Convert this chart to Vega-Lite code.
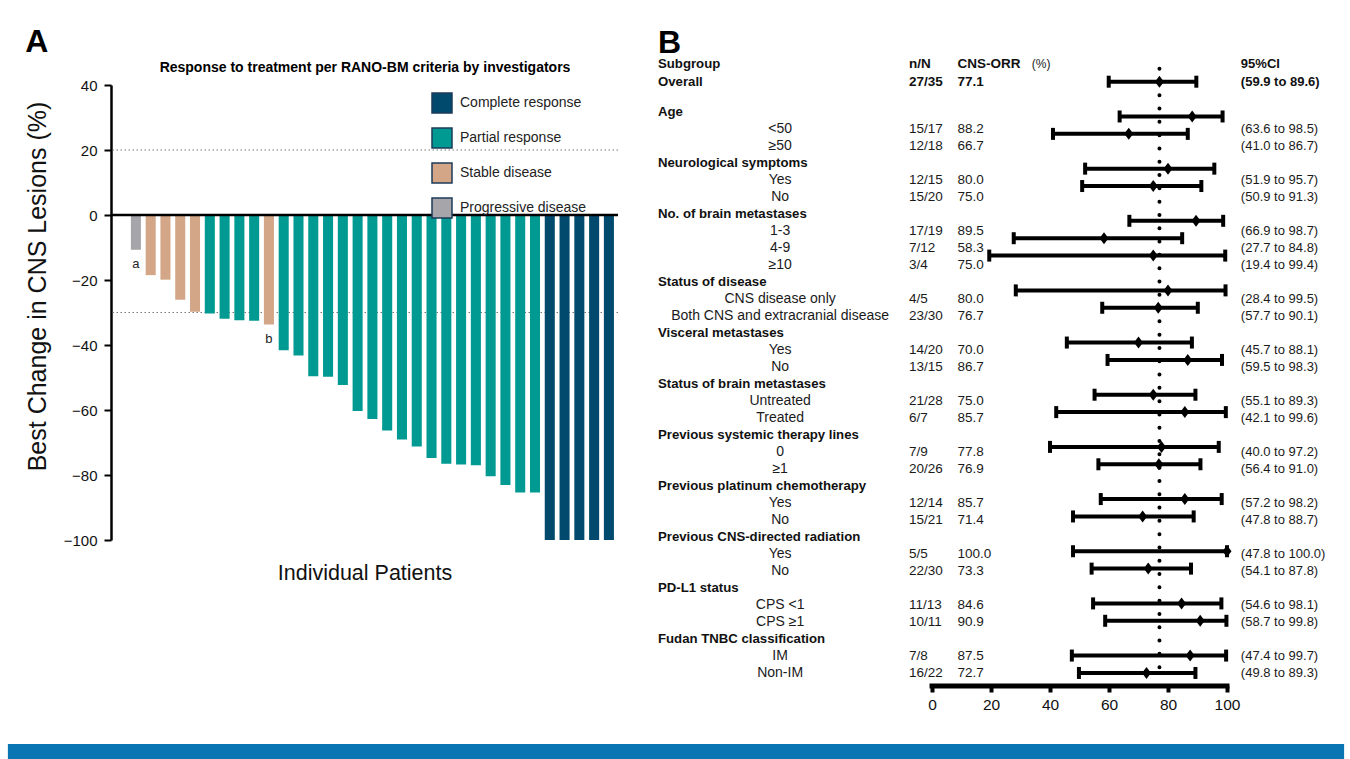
{
  "$schema": "https://vega.github.io/schema/vega-lite/v6.json",
  "padding": {"left": 7, "right": 7, "top": 26, "bottom": 0},
  "background": "white",
  "config": {
    "font": "Liberation Sans",
    "view": {"stroke": null},
    "axis": {"labelColor": "#111", "titleColor": "#111", "domainColor": "#000", "tickColor": "#000"},
    "title": {"fontSize": 32, "fontWeight": "bold", "anchor": "start", "frame": "bounds", "color": "#000"}
  },
  "datasets": {
    "bars": [
      {"patient": 1, "response": "Progressive disease", "change": -10.7, "note": "a"},
      {"patient": 2, "response": "Stable disease", "change": -18.5},
      {"patient": 3, "response": "Stable disease", "change": -19.9},
      {"patient": 4, "response": "Stable disease", "change": -26.1},
      {"patient": 5, "response": "Stable disease", "change": -29.8},
      {"patient": 6, "response": "Partial response", "change": -30.3},
      {"patient": 7, "response": "Partial response", "change": -31.9},
      {"patient": 8, "response": "Partial response", "change": -32.4},
      {"patient": 9, "response": "Partial response", "change": -32.5},
      {"patient": 10, "response": "Stable disease", "change": -33.7, "note": "b"},
      {"patient": 11, "response": "Partial response", "change": -41.6},
      {"patient": 12, "response": "Partial response", "change": -43.2},
      {"patient": 13, "response": "Partial response", "change": -49.6},
      {"patient": 14, "response": "Partial response", "change": -49.8},
      {"patient": 15, "response": "Partial response", "change": -52.3},
      {"patient": 16, "response": "Partial response", "change": -60.3},
      {"patient": 17, "response": "Partial response", "change": -62.8},
      {"patient": 18, "response": "Partial response", "change": -66.3},
      {"patient": 19, "response": "Partial response", "change": -69.1},
      {"patient": 20, "response": "Partial response", "change": -71.2},
      {"patient": 21, "response": "Partial response", "change": -74.8},
      {"patient": 22, "response": "Partial response", "change": -76.5},
      {"patient": 23, "response": "Partial response", "change": -76.8},
      {"patient": 24, "response": "Partial response", "change": -77.0},
      {"patient": 25, "response": "Partial response", "change": -80.4},
      {"patient": 26, "response": "Partial response", "change": -83.1},
      {"patient": 27, "response": "Partial response", "change": -85.4},
      {"patient": 28, "response": "Partial response", "change": -85.4},
      {"patient": 29, "response": "Complete response", "change": -100},
      {"patient": 30, "response": "Complete response", "change": -100},
      {"patient": 31, "response": "Complete response", "change": -100},
      {"patient": 32, "response": "Complete response", "change": -100},
      {"patient": 33, "response": "Complete response", "change": -100}
    ],
    "forest": [
      {"row": -1, "kind": "header", "label": "Subgroup", "nN": "n/N", "ci": "95%CI", "orrHead": "CNS-ORR", "unit": "(%)"},
      {"row": 0, "kind": "overall", "label": "Overall", "nN": "27/35", "orr": 77.1, "lo": 59.9, "hi": 89.6, "ci": "(59.9 to 89.6)"},
      {"row": 1, "kind": "group", "label": "Age"},
      {"row": 2, "kind": "sub", "label": "<50", "nN": "15/17", "orr": 88.2, "lo": 63.6, "hi": 98.5, "ci": "(63.6 to 98.5)"},
      {"row": 3, "kind": "sub", "label": "≥50", "nN": "12/18", "orr": 66.7, "lo": 41.0, "hi": 86.7, "ci": "(41.0 to 86.7)"},
      {"row": 4, "kind": "group", "label": "Neurological symptoms"},
      {"row": 5, "kind": "sub", "label": "Yes", "nN": "12/15", "orr": 80.0, "lo": 51.9, "hi": 95.7, "ci": "(51.9 to 95.7)"},
      {"row": 6, "kind": "sub", "label": "No", "nN": "15/20", "orr": 75.0, "lo": 50.9, "hi": 91.3, "ci": "(50.9 to 91.3)"},
      {"row": 7, "kind": "group", "label": "No. of brain metastases"},
      {"row": 8, "kind": "sub", "label": "1-3", "nN": "17/19", "orr": 89.5, "lo": 66.9, "hi": 98.7, "ci": "(66.9 to 98.7)"},
      {"row": 9, "kind": "sub", "label": "4-9", "nN": "7/12", "orr": 58.3, "lo": 27.7, "hi": 84.8, "ci": "(27.7 to 84.8)"},
      {"row": 10, "kind": "sub", "label": "≥10", "nN": "3/4", "orr": 75.0, "lo": 19.4, "hi": 99.4, "ci": "(19.4 to 99.4)"},
      {"row": 11, "kind": "group", "label": "Status of disease"},
      {"row": 12, "kind": "sub", "label": "CNS disease only", "nN": "4/5", "orr": 80.0, "lo": 28.4, "hi": 99.5, "ci": "(28.4 to 99.5)"},
      {"row": 13, "kind": "sub", "label": "Both CNS and extracranial disease", "nN": "23/30", "orr": 76.7, "lo": 57.7, "hi": 90.1, "ci": "(57.7 to 90.1)"},
      {"row": 14, "kind": "group", "label": "Visceral metastases"},
      {"row": 15, "kind": "sub", "label": "Yes", "nN": "14/20", "orr": 70.0, "lo": 45.7, "hi": 88.1, "ci": "(45.7 to 88.1)"},
      {"row": 16, "kind": "sub", "label": "No", "nN": "13/15", "orr": 86.7, "lo": 59.5, "hi": 98.3, "ci": "(59.5 to 98.3)"},
      {"row": 17, "kind": "group", "label": "Status of brain metastases"},
      {"row": 18, "kind": "sub", "label": "Untreated", "nN": "21/28", "orr": 75.0, "lo": 55.1, "hi": 89.3, "ci": "(55.1 to 89.3)"},
      {"row": 19, "kind": "sub", "label": "Treated", "nN": "6/7", "orr": 85.7, "lo": 42.1, "hi": 99.6, "ci": "(42.1 to 99.6)"},
      {"row": 20, "kind": "group", "label": "Previous systemic therapy lines"},
      {"row": 21, "kind": "sub", "label": "0", "nN": "7/9", "orr": 77.8, "lo": 40.0, "hi": 97.2, "ci": "(40.0 to 97.2)"},
      {"row": 22, "kind": "sub", "label": "≥1", "nN": "20/26", "orr": 76.9, "lo": 56.4, "hi": 91.0, "ci": "(56.4 to 91.0)"},
      {"row": 23, "kind": "group", "label": "Previous platinum chemotherapy"},
      {"row": 24, "kind": "sub", "label": "Yes", "nN": "12/14", "orr": 85.7, "lo": 57.2, "hi": 98.2, "ci": "(57.2 to 98.2)"},
      {"row": 25, "kind": "sub", "label": "No", "nN": "15/21", "orr": 71.4, "lo": 47.8, "hi": 88.7, "ci": "(47.8 to 88.7)"},
      {"row": 26, "kind": "group", "label": "Previous CNS-directed radiation"},
      {"row": 27, "kind": "sub", "label": "Yes", "nN": "5/5", "orr": 100.0, "lo": 47.8, "hi": 100.0, "ci": "(47.8 to 100.0)"},
      {"row": 28, "kind": "sub", "label": "No", "nN": "22/30", "orr": 73.3, "lo": 54.1, "hi": 87.8, "ci": "(54.1 to 87.8)"},
      {"row": 29, "kind": "group", "label": "PD-L1 status"},
      {"row": 30, "kind": "sub", "label": "CPS <1", "nN": "11/13", "orr": 84.6, "lo": 54.6, "hi": 98.1, "ci": "(54.6 to 98.1)"},
      {"row": 31, "kind": "sub", "label": "CPS ≥1", "nN": "10/11", "orr": 90.9, "lo": 58.7, "hi": 99.8, "ci": "(58.7 to 99.8)"},
      {"row": 32, "kind": "group", "label": "Fudan TNBC classification"},
      {"row": 33, "kind": "sub", "label": "IM", "nN": "7/8", "orr": 87.5, "lo": 47.4, "hi": 99.7, "ci": "(47.4 to 99.7)"},
      {"row": 34, "kind": "sub", "label": "Non-IM", "nN": "16/22", "orr": 72.7, "lo": 49.8, "hi": 89.3, "ci": "(49.8 to 89.3)"}
    ]
  },
  "bounds": "flush",
  "spacing": 40,
  "hconcat": [
    {
      "width": 507,
      "height": 455,
      "title": {"text": "A", "offset": 1},
      "layer": [
        {
          "data": {"values": [{"v": 20}, {"v": -30}]},
          "mark": {"type": "rule", "color": "#777", "strokeDash": [1.5, 2.5], "strokeWidth": 1.2},
          "encoding": {"y": {"field": "v", "type": "quantitative"}}
        },
        {
          "data": {"name": "bars"},
          "mark": {"type": "bar"},
          "encoding": {
            "x": {"field": "patient", "type": "ordinal",
              "scale": {"paddingInner": 0.32, "paddingOuter": 0.81, "align": 0.83, "round": false},
              "axis": {"orient": "bottom", "title": "Individual Patients", "labels": false, "ticks": false, "domain": false, "titleFontSize": 21.5, "titleFontWeight": "normal", "titlePadding": 22}},
            "y": {"field": "change", "type": "quantitative",
              "scale": {"domain": [-100, 40], "nice": false},
              "axis": {"title": "Best Change in CNS Lesions (%)", "values": [40, 20, 0, -20, -40, -60, -80, -100], "grid": false, "domainWidth": 2.5, "tickWidth": 2, "tickSize": 7, "labelFontSize": 15, "labelPadding": 7, "titleFontSize": 25, "titleFontWeight": "normal", "titlePadding": 13, "titleY": 201}},
            "color": {"field": "response", "type": "nominal",
              "scale": {"domain": ["Complete response", "Partial response", "Stable disease", "Progressive disease"], "range": ["#014a6e", "#009a92", "#d3a687", "#a5a5aa"]},
              "legend": {"title": null, "orient": "none", "legendX": 320, "legendY": 7, "symbolType": "square", "symbolSize": 400, "symbolStrokeColor": "#1d3b5a", "symbolStrokeWidth": 1.5, "symbolFillOpacity": 1, "labelFontSize": 14, "labelColor": "#222", "rowPadding": 9, "labelOffset": 7, "padding": 0}}
          }
        },
        {
          "data": {"values": [{"v": 0}]},
          "mark": {"type": "rule", "color": "#000", "strokeWidth": 2.5},
          "encoding": {"y": {"field": "v", "type": "quantitative"}}
        },
        {
          "data": {"name": "bars"},
          "transform": [{"filter": "isValid(datum.note)"}],
          "mark": {"type": "text", "dy": 14, "fontSize": 13, "color": "#222"},
          "encoding": {
            "x": {"field": "patient", "type": "ordinal",
              "axis": {"orient": "top", "title": "Response to treatment per RANO-BM criteria by investigators", "labels": false, "ticks": false, "domain": false, "titleFontSize": 14, "titleFontWeight": "bold", "titlePadding": 11, "titleColor": "#000"}},
            "y": {"field": "change", "type": "quantitative"},
            "text": {"field": "note"}
          }
        }
      ],
      "resolve": {"axis": {"x": "independent"}}
    },
    {
      "width": 669,
      "height": 601,
      "title": {"text": "B", "offset": -2.5, "frame": "group"},
      "data": {"name": "forest"},
      "layer": [
        {
          "transform": [{"filter": "datum.kind === 'overall'"}],
          "mark": {"type": "rect", "color": "#0a75b3"},
          "encoding": {
            "x": {"datum": -313.3, "type": "quantitative", "scale": {"domain": [-92.9, 133.9], "nice": false, "zero": false},
              "axis": {"orient": "bottom", "values": [0, 20, 40, 60, 80, 100], "domain": false, "grid": false, "ticks": true, "tickSize": 6, "tickWidth": 4, "tickColor": "#000", "labelFontSize": 15.5, "labelPadding": 5, "labelColor": "#111", "title": null, "labelFlush": false}},
            "x2": {"datum": 139.7},
            "y": {"datum": 38.09, "type": "quantitative", "scale": {"domain": [0.19, 34.75], "reverse": true, "nice": false, "zero": false}, "axis": null},
            "y2": {"datum": 38.95}
          }
        },
        {
          "transform": [{"filter": "datum.kind === 'overall'"}],
          "mark": {"type": "rule", "color": "#000", "strokeWidth": 4, "strokeDash": [0, 13.3], "strokeCap": "round"},
          "encoding": {
            "x": {"field": "orr", "type": "quantitative", "scale": {"domain": [-92.9, 133.9], "nice": false, "zero": false}},
            "y": {"datum": -0.75, "type": "quantitative", "scale": {"domain": [0.19, 34.75], "reverse": true, "nice": false, "zero": false}, "axis": null},
            "y2": {"datum": 34.4}
          }
        },
        {
          "transform": [{"filter": "isValid(datum.lo)"}],
          "mark": {"type": "rule", "color": "#000", "strokeWidth": 4},
          "encoding": {
            "x": {"field": "lo", "type": "quantitative", "scale": {"domain": [-92.9, 133.9], "nice": false, "zero": false}},
            "x2": {"field": "hi"},
            "y": {"field": "row", "type": "quantitative", "scale": {"domain": [0.19, 34.75], "reverse": true, "nice": false, "zero": false}, "axis": null}
          }
        },
        {
          "transform": [{"filter": "isValid(datum.lo)"}, {"fold": ["lo", "hi"], "as": ["end", "val"]}],
          "mark": {"type": "tick", "orient": "vertical", "color": "#000", "size": 12, "thickness": 4, "opacity": 1},
          "encoding": {
            "x": {"field": "val", "type": "quantitative", "scale": {"domain": [-92.9, 133.9], "nice": false, "zero": false}},
            "y": {"field": "row", "type": "quantitative", "scale": {"domain": [0.19, 34.75], "reverse": true, "nice": false, "zero": false}, "axis": null}
          }
        },
        {
          "transform": [{"filter": "isValid(datum.orr)"}],
          "mark": {"type": "point", "shape": "M0,-1L0.75,0L0,1L-0.75,0Z", "filled": true, "color": "#000", "size": 144, "opacity": 1},
          "encoding": {
            "x": {"field": "orr", "type": "quantitative", "scale": {"domain": [-92.9, 133.9], "nice": false, "zero": false}},
            "y": {"field": "row", "type": "quantitative", "scale": {"domain": [0.19, 34.75], "reverse": true, "nice": false, "zero": false}, "axis": null}
          }
        },
        {
          "transform": [{"filter": "datum.kind === 'overall'"}],
          "mark": {"type": "rule", "color": "#000", "strokeWidth": 5, "strokeCap": "square"},
          "encoding": {
            "x": {"datum": 0, "type": "quantitative", "scale": {"domain": [-92.9, 133.9], "nice": false, "zero": false}},
            "x2": {"datum": 100},
            "y": {"datum": 34.75, "type": "quantitative", "scale": {"domain": [0.19, 34.75], "reverse": true, "nice": false, "zero": false}, "axis": null}
          }
        },
        {
          "transform": [{"filter": "datum.kind === 'group'"}],
          "mark": {"type": "text", "align": "left", "baseline": "middle", "fontSize": 13.2, "fontWeight": "bold", "color": "#111"},
          "encoding": {
            "x": {"datum": -92.9, "type": "quantitative", "scale": {"domain": [-92.9, 133.9], "nice": false, "zero": false}},
            "y": {"field": "row", "type": "quantitative", "scale": {"domain": [-0.57, 34.76], "reverse": true, "nice": false, "zero": false}, "axis": null},
            "text": {"field": "label"}
          }
        },
        {
          "transform": [{"filter": "datum.kind === 'sub'"}],
          "mark": {"type": "text", "align": "center", "baseline": "middle", "fontSize": 14, "color": "#1a1a1a"},
          "encoding": {
            "x": {"datum": -51.5, "type": "quantitative", "scale": {"domain": [-92.9, 133.9], "nice": false, "zero": false}},
            "y": {"field": "row", "type": "quantitative", "scale": {"domain": [-0.57, 34.76], "reverse": true, "nice": false, "zero": false}, "axis": null},
            "text": {"field": "label"}
          }
        },
        {
          "transform": [{"filter": "datum.kind === 'sub'"}],
          "mark": {"type": "text", "align": "left", "baseline": "middle", "fontSize": 13.5, "color": "#1a1a1a"},
          "encoding": {
            "x": {"datum": -7.8, "type": "quantitative", "scale": {"domain": [-92.9, 133.9], "nice": false, "zero": false}},
            "y": {"field": "row", "type": "quantitative", "scale": {"domain": [-0.57, 34.76], "reverse": true, "nice": false, "zero": false}, "axis": null},
            "text": {"field": "nN"}
          }
        },
        {
          "transform": [{"filter": "datum.kind === 'sub'"}],
          "mark": {"type": "text", "align": "left", "baseline": "middle", "fontSize": 13.5, "color": "#1a1a1a"},
          "encoding": {
            "x": {"datum": 8.6, "type": "quantitative", "scale": {"domain": [-92.9, 133.9], "nice": false, "zero": false}},
            "y": {"field": "row", "type": "quantitative", "scale": {"domain": [-0.57, 34.76], "reverse": true, "nice": false, "zero": false}, "axis": null},
            "text": {"field": "orr", "type": "quantitative", "format": ".1f"}
          }
        },
        {
          "transform": [{"filter": "datum.kind === 'sub'"}],
          "mark": {"type": "text", "align": "left", "baseline": "middle", "fontSize": 13, "color": "#1a1a1a"},
          "encoding": {
            "x": {"datum": 104.7, "type": "quantitative", "scale": {"domain": [-92.9, 133.9], "nice": false, "zero": false}},
            "y": {"field": "row", "type": "quantitative", "scale": {"domain": [-0.57, 34.76], "reverse": true, "nice": false, "zero": false}, "axis": null},
            "text": {"field": "ci"}
          }
        },
        {
          "transform": [{"filter": "datum.row <= 0"}],
          "mark": {"type": "text", "align": "left", "baseline": "middle", "fontSize": 13.2, "fontWeight": "bold", "color": "#111"},
          "encoding": {
            "x": {"datum": -92.9, "type": "quantitative", "scale": {"domain": [-92.9, 133.9], "nice": false, "zero": false}},
            "y": {"field": "row", "type": "quantitative", "scale": {"domain": [0.19, 34.75], "reverse": true, "nice": false, "zero": false}, "axis": null},
            "text": {"field": "label"}
          }
        },
        {
          "transform": [{"filter": "datum.row <= 0"}],
          "mark": {"type": "text", "align": "left", "baseline": "middle", "fontSize": 13.5, "fontWeight": "bold", "color": "#111"},
          "encoding": {
            "x": {"datum": -7.8, "type": "quantitative", "scale": {"domain": [-92.9, 133.9], "nice": false, "zero": false}},
            "y": {"field": "row", "type": "quantitative", "scale": {"domain": [0.19, 34.75], "reverse": true, "nice": false, "zero": false}, "axis": null},
            "text": {"field": "nN"}
          }
        },
        {
          "transform": [{"filter": "datum.row <= 0"}],
          "mark": {"type": "text", "align": "left", "baseline": "middle", "fontSize": 13, "fontWeight": "bold", "color": "#111"},
          "encoding": {
            "x": {"datum": 104.7, "type": "quantitative", "scale": {"domain": [-92.9, 133.9], "nice": false, "zero": false}},
            "y": {"field": "row", "type": "quantitative", "scale": {"domain": [0.19, 34.75], "reverse": true, "nice": false, "zero": false}, "axis": null},
            "text": {"field": "ci"}
          }
        },
        {
          "transform": [{"filter": "datum.kind === 'overall'"}],
          "mark": {"type": "text", "align": "left", "baseline": "middle", "fontSize": 13.5, "fontWeight": "bold", "color": "#111"},
          "encoding": {
            "x": {"datum": 8.6, "type": "quantitative", "scale": {"domain": [-92.9, 133.9], "nice": false, "zero": false}},
            "y": {"field": "row", "type": "quantitative", "scale": {"domain": [0.19, 34.75], "reverse": true, "nice": false, "zero": false}, "axis": null},
            "text": {"field": "orr", "type": "quantitative", "format": ".1f"}
          }
        },
        {
          "transform": [{"filter": "datum.kind === 'header'"}],
          "mark": {"type": "text", "align": "left", "baseline": "middle", "fontSize": 13.5, "fontWeight": "bold", "color": "#111"},
          "encoding": {
            "x": {"datum": 8.6, "type": "quantitative", "scale": {"domain": [-92.9, 133.9], "nice": false, "zero": false}},
            "y": {"field": "row", "type": "quantitative", "scale": {"domain": [0.19, 34.75], "reverse": true, "nice": false, "zero": false}, "axis": null},
            "text": {"field": "orrHead"}
          }
        },
        {
          "transform": [{"filter": "datum.kind === 'header'"}],
          "mark": {"type": "text", "align": "left", "baseline": "middle", "fontSize": 12, "color": "#222"},
          "encoding": {
            "x": {"datum": 33.8, "type": "quantitative", "scale": {"domain": [-92.9, 133.9], "nice": false, "zero": false}},
            "y": {"field": "row", "type": "quantitative", "scale": {"domain": [0.19, 34.75], "reverse": true, "nice": false, "zero": false}, "axis": null},
            "text": {"field": "unit"}
          }
        }
      ],
      "resolve": {"scale": {"y": "independent"}}
    }
  ]
}
